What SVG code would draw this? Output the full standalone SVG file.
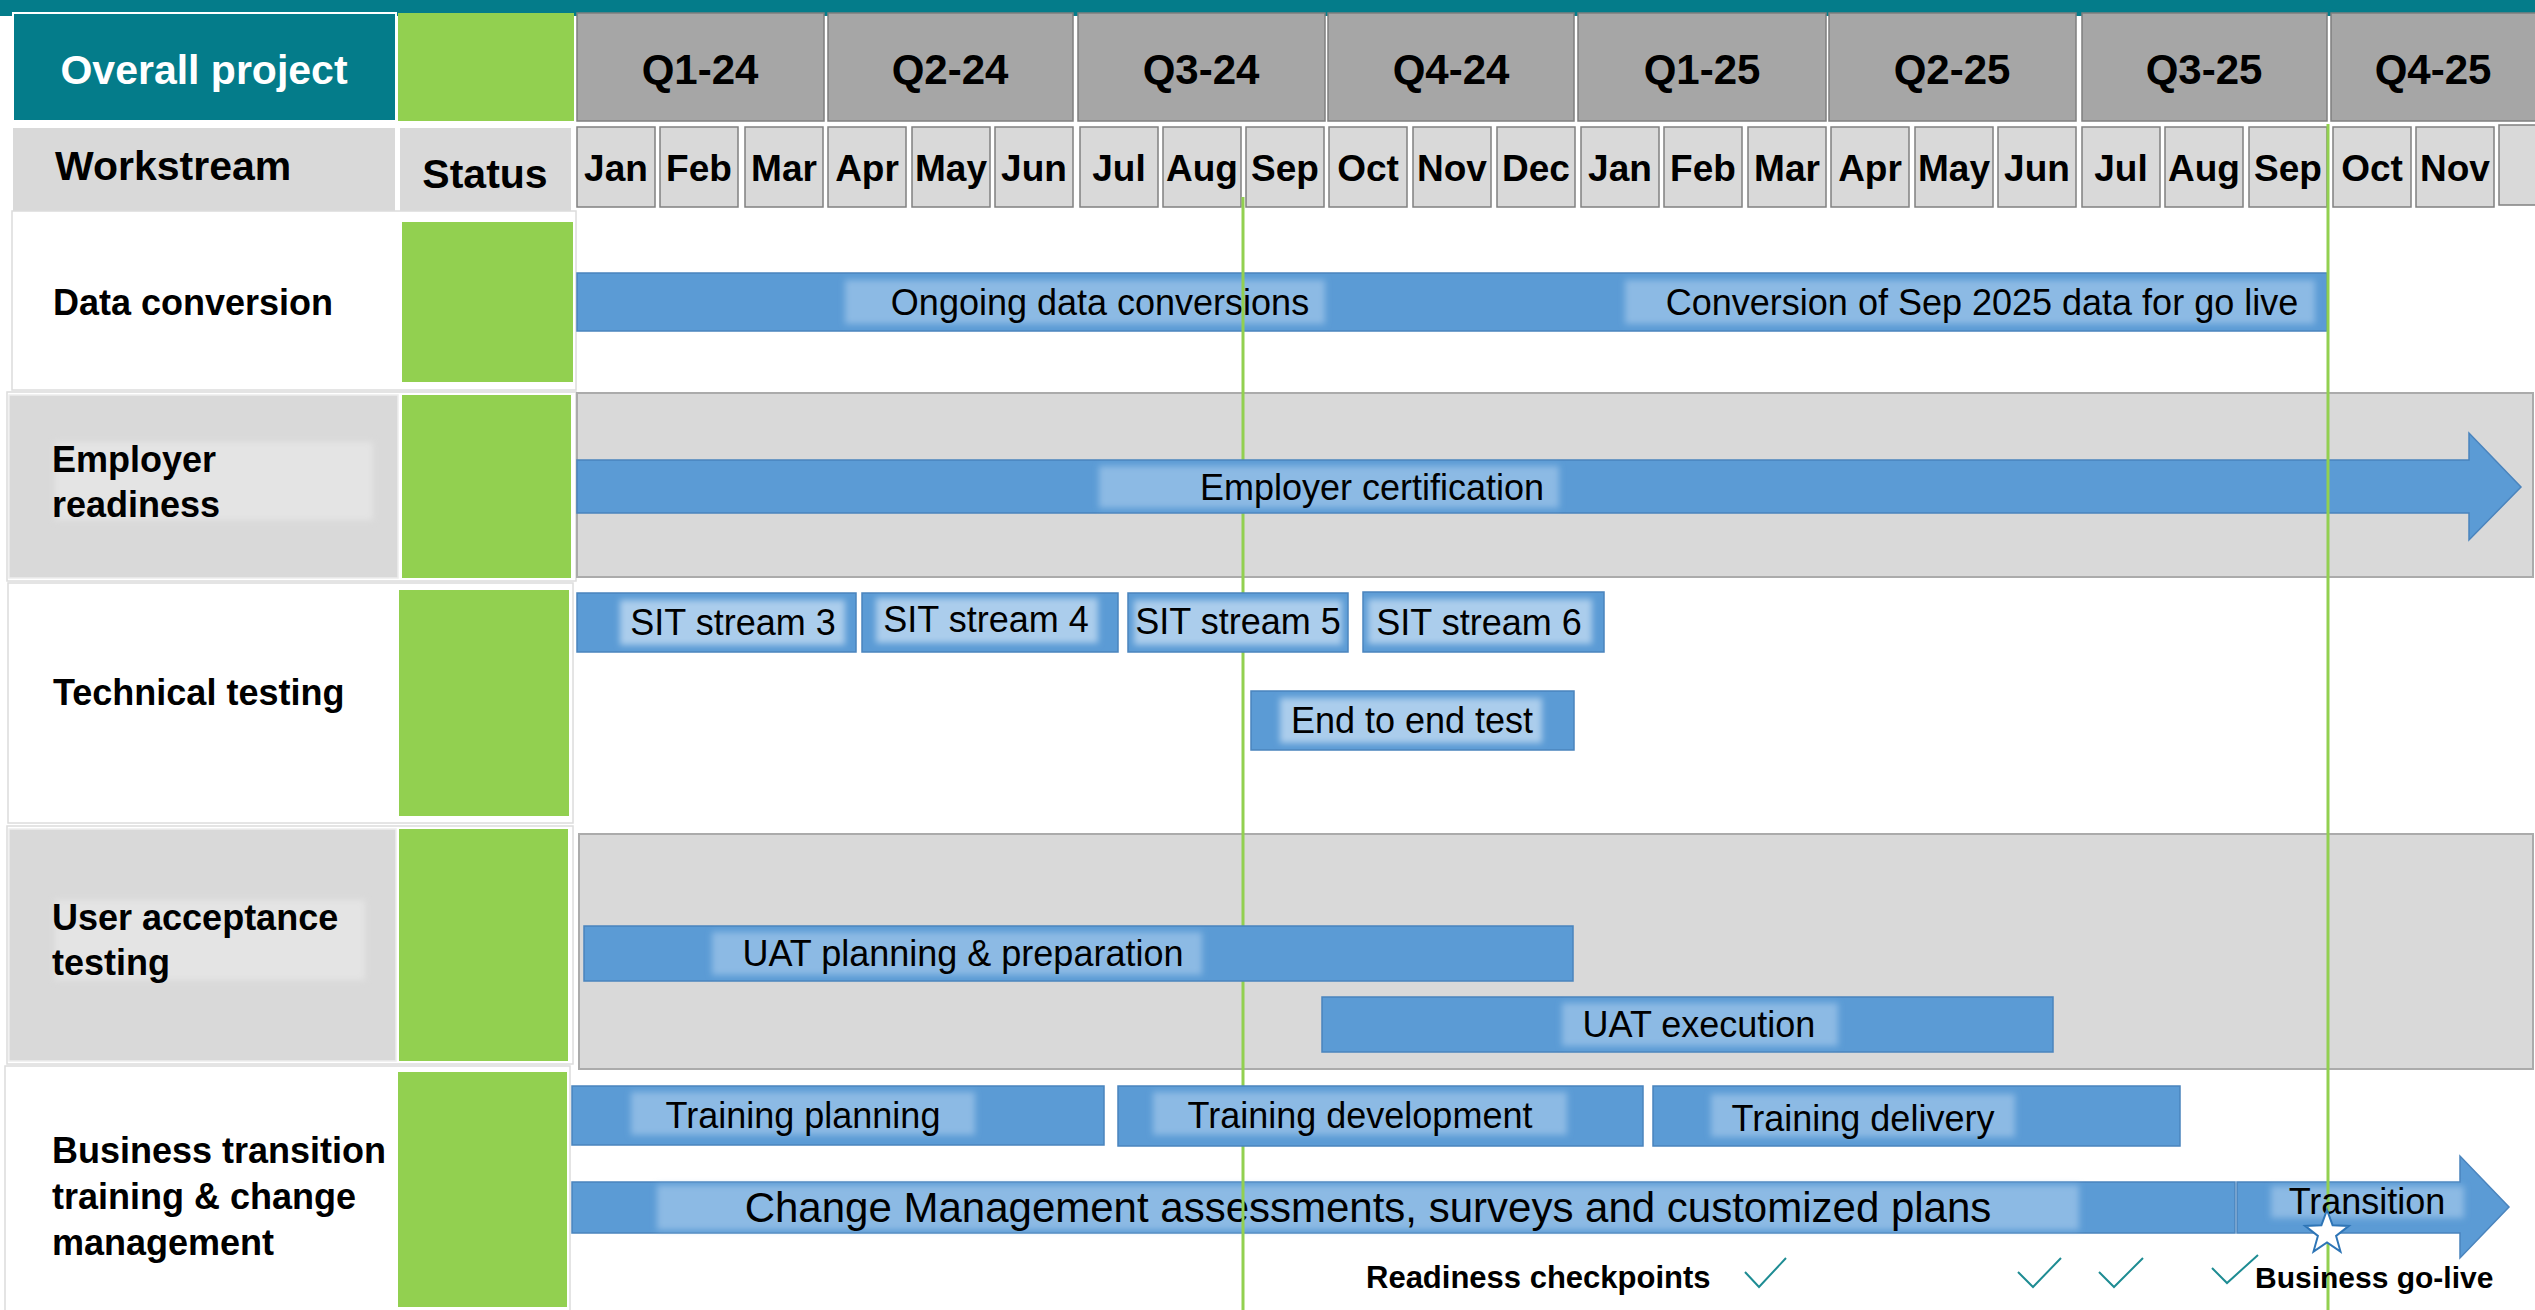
<svg xmlns="http://www.w3.org/2000/svg" width="2535" height="1310" viewBox="0 0 2535 1310">
<style>
text{font-family:"Liberation Sans",Arial,sans-serif;fill:#000}
.b{font-weight:bold}
.q{fill:#A6A6A6;stroke:#7F7F7F;stroke-width:1.5}
.m{fill:#D9D9D9;stroke:#808080;stroke-width:1.5}
.g{fill:#92D050}
.hd{fill:#D9D9D9}
.cellw{fill:#FFFFFF;stroke:#DCDCDC;stroke-width:1.5}
.cellg{fill:#D9D9D9;stroke:#EDEDED;stroke-width:1.5}
.band{fill:#D9D9D9;stroke:#ABABAB;stroke-width:2}
.bar{fill:#5B9BD5;stroke:#4A84BD;stroke-width:1.5}
.glow{fill:#8CBAE4;filter:url(#blur)}
.glow2{fill:#ABCDEC;filter:url(#blur)}
.lglow{fill:#E4E4E4;filter:url(#blur)}
.ql{font-size:42px;font-weight:bold;text-anchor:middle}
.ml{font-size:37px;font-weight:bold;text-anchor:middle}
.lab{font-size:36px;font-weight:bold}
.bt{font-size:36px;text-anchor:middle}
.vl{stroke:#92D050;stroke-width:3;fill:none}
.chk{stroke:#1E8C93;stroke-width:2;fill:none}
</style>
<defs>
<filter id="blur" x="-10%" y="-30%" width="120%" height="160%"><feGaussianBlur stdDeviation="3"/></filter>
</defs>
<rect x="0" y="0" width="2535" height="1310" fill="#FFFFFF"/>
<rect x="0" y="0" width="2535" height="16" fill="#047C8A"/>

<g id="header">
<rect x="13" y="13" width="383" height="108" fill="#047C8A" stroke="#FFFFFF" stroke-width="2"/>
<text x="204" y="84" class="b" font-size="41" text-anchor="middle" style="fill:#FFFFFF">Overall project</text>
<rect x="398" y="13" width="176" height="108" class="g"/>
<rect x="13" y="128" width="382" height="83" class="hd"/>
<text x="55" y="180" class="b" font-size="41">Workstream</text>
<rect x="400" y="128" width="171" height="85" class="hd"/>
<text x="485" y="188" class="b" font-size="41" text-anchor="middle">Status</text>
</g>

<g id="quarters">
<rect x="577" y="13" width="247" height="108" class="q"/><text x="700" y="84" class="ql">Q1-24</text>
<rect x="828" y="13" width="245" height="108" class="q"/><text x="950" y="84" class="ql">Q2-24</text>
<rect x="1078" y="13" width="247" height="108" class="q"/><text x="1201" y="84" class="ql">Q3-24</text>
<rect x="1328" y="13" width="246" height="108" class="q"/><text x="1451" y="84" class="ql">Q4-24</text>
<rect x="1578" y="13" width="248" height="108" class="q"/><text x="1702" y="84" class="ql">Q1-25</text>
<rect x="1829" y="13" width="247" height="108" class="q"/><text x="1952" y="84" class="ql">Q2-25</text>
<rect x="2082" y="13" width="245" height="108" class="q"/><text x="2204" y="84" class="ql">Q3-25</text>
<rect x="2331" y="13" width="210" height="108" class="q"/><text x="2433" y="84" class="ql">Q4-25</text>
</g>

<g id="months">
<rect x="577" y="127" width="78" height="80" class="m"/><text x="616" y="181" class="ml">Jan</text>
<rect x="660" y="127" width="78" height="80" class="m"/><text x="699" y="181" class="ml">Feb</text>
<rect x="745" y="127" width="78" height="80" class="m"/><text x="784" y="181" class="ml">Mar</text>
<rect x="828" y="127" width="78" height="80" class="m"/><text x="867" y="181" class="ml">Apr</text>
<rect x="912" y="127" width="78" height="80" class="m"/><text x="951" y="181" class="ml">May</text>
<rect x="995" y="127" width="78" height="80" class="m"/><text x="1034" y="181" class="ml">Jun</text>
<rect x="1080" y="127" width="78" height="80" class="m"/><text x="1119" y="181" class="ml">Jul</text>
<rect x="1163" y="127" width="78" height="80" class="m"/><text x="1202" y="181" class="ml">Aug</text>
<rect x="1246" y="127" width="78" height="80" class="m"/><text x="1285" y="181" class="ml">Sep</text>
<rect x="1329" y="127" width="78" height="80" class="m"/><text x="1368" y="181" class="ml">Oct</text>
<rect x="1413" y="127" width="78" height="80" class="m"/><text x="1452" y="181" class="ml">Nov</text>
<rect x="1497" y="127" width="78" height="80" class="m"/><text x="1536" y="181" class="ml">Dec</text>
<rect x="1581" y="127" width="78" height="80" class="m"/><text x="1620" y="181" class="ml">Jan</text>
<rect x="1664" y="127" width="78" height="80" class="m"/><text x="1703" y="181" class="ml">Feb</text>
<rect x="1748" y="127" width="78" height="80" class="m"/><text x="1787" y="181" class="ml">Mar</text>
<rect x="1831" y="127" width="78" height="80" class="m"/><text x="1870" y="181" class="ml">Apr</text>
<rect x="1915" y="127" width="78" height="80" class="m"/><text x="1954" y="181" class="ml">May</text>
<rect x="1998" y="127" width="78" height="80" class="m"/><text x="2037" y="181" class="ml">Jun</text>
<rect x="2082" y="127" width="78" height="80" class="m"/><text x="2121" y="181" class="ml">Jul</text>
<rect x="2165" y="127" width="78" height="80" class="m"/><text x="2204" y="181" class="ml">Aug</text>
<rect x="2249" y="127" width="78" height="80" class="m"/><text x="2288" y="181" class="ml">Sep</text>
<rect x="2333" y="127" width="78" height="80" class="m"/><text x="2372" y="181" class="ml">Oct</text>
<rect x="2416" y="127" width="78" height="80" class="m"/><text x="2455" y="181" class="ml">Nov</text>
<rect x="2499" y="125" width="42" height="80" class="m"/>
</g>

<g id="row-data-conversion">
<rect x="12" y="211" width="564" height="179" class="cellw"/>
<rect x="402" y="222" width="171" height="160" class="g"/>
<text x="53" y="315" class="lab">Data conversion</text>
</g>
<g id="row-employer-readiness">
<rect x="7" y="392" width="569" height="189" class="cellw"/>
<rect x="9" y="395" width="389" height="183" class="cellg"/>
<rect x="55" y="442" width="318" height="78" class="lglow"/>
<rect x="402" y="395" width="169" height="183" class="g"/>
<text x="52" y="472" class="lab">Employer</text>
<text x="52" y="517" class="lab">readiness</text>
</g>
<g id="row-technical-testing">
<rect x="8" y="583" width="565" height="240" class="cellw"/>
<rect x="399" y="590" width="170" height="226" class="g"/>
<text x="53" y="705" class="lab">Technical testing</text>
</g>
<g id="row-uat">
<rect x="7" y="826" width="566" height="238" class="cellw"/>
<rect x="9" y="829" width="387" height="232" class="cellg"/>
<rect x="55" y="900" width="310" height="80" class="lglow"/>
<rect x="399" y="829" width="169" height="232" class="g"/>
<text x="52" y="930" class="lab">User acceptance</text>
<text x="52" y="975" class="lab">testing</text>
</g>
<g id="row-business-transition">
<rect x="5" y="1066" width="565" height="250" class="cellw"/>
<rect x="398" y="1072" width="169" height="235" class="g"/>
<text x="52" y="1163" class="lab">Business transition</text>
<text x="52" y="1209" class="lab">training &amp; change</text>
<text x="52" y="1255" class="lab">management</text>
</g>

<g id="bands">
<rect x="577" y="393" width="1956" height="184" class="band"/>
<rect x="579" y="834" width="1954" height="235" class="band"/>
</g>

<g id="bar-data-conversion">
<rect x="577" y="273" width="1750" height="58" class="bar"/>
<rect x="845" y="280" width="480" height="44" class="glow"/>
<rect x="1625" y="280" width="690" height="44" class="glow"/>
<text x="1100" y="315" class="bt">Ongoing data conversions</text>
<text x="1982" y="315" class="bt">Conversion of Sep 2025 data for go live</text>
</g>
<g id="bar-change-management">
<rect x="572" y="1182" width="1663" height="51" class="bar"/>
<rect x="657" y="1185" width="1422" height="45" class="glow"/>
<text x="1368" y="1222" font-size="42" text-anchor="middle">Change Management assessments, surveys and customized plans</text>
</g>

<g id="connectors">
<line x1="1243" y1="197" x2="1243" y2="1310" class="vl"/>
</g>

<g id="arrow-employer-certification">
<path d="M577 460 H2469 V433 L2521 487 L2469 540 V513 H577 Z" class="bar"/>
<rect x="1099" y="466" width="460" height="42" class="glow"/>
<text x="1372" y="500" class="bt">Employer certification</text>
</g>
<g id="bar-sit3">
<rect x="577" y="593" width="279" height="59" class="bar"/>
<rect x="620" y="600" width="225" height="45" class="glow2"/>
<text x="733" y="635" class="bt">SIT stream 3</text>
</g>
<g id="bar-sit4">
<rect x="862" y="593" width="256" height="59" class="bar"/>
<rect x="876" y="598" width="222" height="45" class="glow2"/>
<text x="986" y="632" class="bt">SIT stream 4</text>
</g>
<g id="bar-sit5">
<rect x="1128" y="593" width="220" height="59" class="bar"/>
<rect x="1134" y="600" width="208" height="45" class="glow2"/>
<text x="1238" y="634" class="bt" font-size="33">SIT stream 5</text>
</g>
<g id="bar-sit6">
<rect x="1363" y="592" width="241" height="60" class="bar"/>
<rect x="1368" y="599" width="224" height="45" class="glow2"/>
<text x="1479" y="635" class="bt">SIT stream 6</text>
</g>
<g id="bar-e2e">
<rect x="1251" y="691" width="323" height="59" class="bar"/>
<rect x="1280" y="698" width="262" height="45" class="glow2"/>
<text x="1412" y="733" class="bt">End to end test</text>
</g>
<g id="bar-uat-planning">
<rect x="584" y="926" width="989" height="55" class="bar"/>
<rect x="712" y="932" width="490" height="43" class="glow"/>
<text x="963" y="966" class="bt">UAT planning &amp; preparation</text>
</g>
<g id="bar-uat-execution">
<rect x="1322" y="997" width="731" height="55" class="bar"/>
<rect x="1562" y="1003" width="276" height="43" class="glow"/>
<text x="1699" y="1037" class="bt">UAT execution</text>
</g>
<g id="bar-training-planning">
<rect x="572" y="1086" width="532" height="59" class="bar"/>
<rect x="631" y="1092" width="344" height="43" class="glow"/>
<text x="803" y="1128" class="bt">Training planning</text>
</g>
<g id="bar-training-development">
<rect x="1118" y="1086" width="525" height="60" class="bar"/>
<rect x="1153" y="1092" width="414" height="43" class="glow"/>
<text x="1360" y="1128" class="bt">Training development</text>
</g>
<g id="bar-training-delivery">
<rect x="1653" y="1086" width="527" height="60" class="bar"/>
<rect x="1711" y="1094" width="304" height="43" class="glow"/>
<text x="1863" y="1131" class="bt">Training delivery</text>
</g>
<g id="arrow-transition">
<path d="M2237 1182 H2460 V1156 L2509 1207 L2460 1258 V1233 H2237 Z" class="bar"/>
<rect x="2271" y="1186" width="193" height="32" class="glow"/>
</g>

<g id="connectors-golive">
<line x1="2328" y1="124" x2="2328" y2="1310" class="vl"/>
</g>

<g id="transition-label">
<text x="2367" y="1214" class="bt">Transition</text>
</g>
<g id="golive-star">
<path d="M2327 1210 L2332.6 1225.3 L2348.9 1225.9 L2336.1 1235.9 L2340.5 1251.6 L2327 1242.5 L2313.5 1251.6 L2317.9 1235.9 L2305.1 1225.9 L2321.4 1225.3 Z" fill="#FFFFFF" stroke="#2E75B6" stroke-width="2" stroke-linejoin="miter"/>
</g>

<g id="checkpoints">
<text x="1366" y="1288" class="b" font-size="31">Readiness checkpoints</text>
<polyline points="1745,1272 1759,1287 1786,1258" class="chk"/>
<polyline points="2018,1272 2033,1287 2061,1258" class="chk"/>
<polyline points="2099,1272 2114,1287 2143,1258" class="chk"/>
<polyline points="2212,1268 2227,1283 2258,1255" class="chk"/>
<text x="2255" y="1288" class="b" font-size="30">Business go-live</text>
</g>
</svg>
